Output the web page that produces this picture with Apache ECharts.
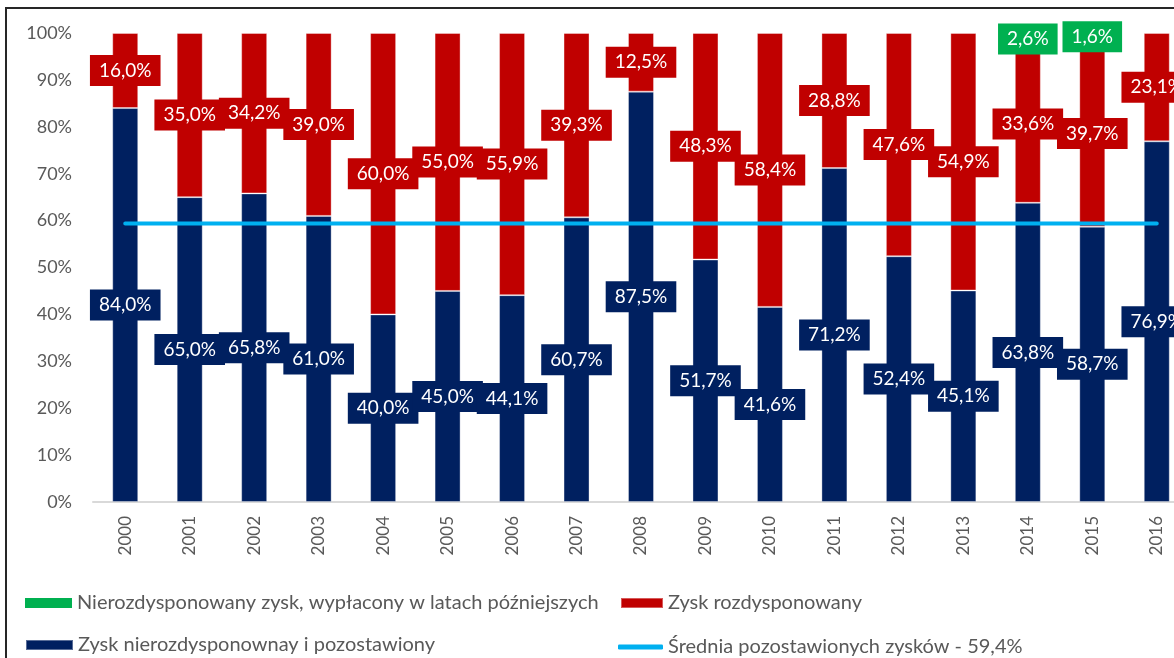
<!DOCTYPE html>
<html>
<head>
<meta charset="utf-8">
<script src="https://cdn.jsdelivr.net/npm/echarts@6/dist/echarts.min.js"></script>
<style>
  html, body { margin: 0; padding: 0; background: #fff; overflow: hidden; }
  #frame { position: absolute; left: 5px; top: 7px; width: 1400px; height: 800px;
           border-left: 2px solid #262626; border-top: 2px solid #262626; }
  #main { position: absolute; left: 0; top: 0; width: 1300px; height: 658px; }
</style>
</head>
<body>
<div id="frame"></div>
<div id="main"></div>
<script>
// dane z wykresu (w %)
var years = ['2000', '2001', '2002', '2003', '2004', '2005', '2006', '2007', '2008',
             '2009', '2010', '2011', '2012', '2013', '2014', '2015', '2016'];
var retained = [84.0, 65.0, 65.8, 61.0, 40.0, 45.0, 44.1, 60.7, 87.5,
                51.7, 41.6, 71.2, 52.4, 45.1, 63.8, 58.7, 76.9];
var distributed = [16.0, 35.0, 34.2, 39.0, 60.0, 55.0, 55.9, 39.3, 12.5,
                   48.3, 58.4, 28.8, 47.6, 54.9, 33.6, 39.7, 23.1];
var paidLater = [null, null, null, null, null, null, null, null, null,
                 null, null, null, null, null, 2.6, 1.6, null];
var average = [59.4, 59.4, 59.4, 59.4, 59.4, 59.4, 59.4, 59.4, 59.4,
               59.4, 59.4, 59.4, 59.4, 59.4, 59.4, 59.4, 59.4];
var yTicks = [0, 10, 20, 30, 40, 50, 60, 70, 80, 90, 100];

var nameGreen = 'Nierozdysponowany zysk, wypłacony w latach późniejszych';
var nameRed = 'Zysk rozdysponowany';
var nameBlue = 'Zysk nierozdysponownay i pozostawiony';
var nameLine = 'Średnia pozostawionych zysków - 59,4%';

var FONT = 'Lato';
var GRAY = '#595959';

function fmt(p) {
  return p.value.toFixed(1).replace('.', ',') + '%';
}
function barLabel(bg) {
  return {
    show: true,
    position: 'inside',
    formatter: fmt,
    color: '#fff',
    fontFamily: FONT,
    fontSize: 19,
    backgroundColor: bg,
    padding: [6, 9]
  };
}
function legendBox(name, left, top, w, h, icon) {
  return {
    data: [{ name: name, icon: icon }],
    left: left,
    top: top,
    padding: 0,
    selectedMode: false,
    itemWidth: w,
    itemHeight: h,
    itemGap: 0,
    textStyle: { color: GRAY, fontFamily: FONT, fontSize: 20 }
  };
}

var myChart = echarts.init(document.getElementById('main'));
var option = {
  animation: false,
  grid: { left: 93, top: 33, width: 1096, height: 469 },
  legend: [
    legendBox(nameGreen, 25, 593, 47, 10, 'rect'),
    legendBox(nameRed, 620, 593, 42, 10, 'rect'),
    legendBox(nameBlue, 25, 635, 47, 10, 'rect'),
    legendBox(nameLine, 618, 637, 45, 5, 'roundRect')
  ],
  xAxis: {
    type: 'category',
    data: years,
    axisTick: { show: false },
    axisLine: { lineStyle: { color: '#D9D9D9', width: 2 } },
    axisLabel: { rotate: 90, margin: 14, color: GRAY, fontFamily: FONT, fontSize: 17 }
  },
  yAxis: {
    type: 'value',
    min: 0,
    max: 100,
    interval: 10,
    splitLine: { show: false },
    axisLine: { show: false },
    axisTick: { show: false },
    axisLabel: {
      margin: 21, color: GRAY, fontFamily: FONT, fontSize: 18,
      formatter: function (v) { return yTicks.indexOf(v) >= 0 ? v + '%' : ''; }
    }
  },
  series: [
    {
      name: nameBlue, type: 'bar', stack: 'all', barWidth: 26,
      data: retained,
      itemStyle: { color: '#002060', borderColor: 'rgba(255,255,255,0.35)', borderWidth: 1 },
      label: barLabel('#002060')
    },
    {
      name: nameRed, type: 'bar', stack: 'all', barWidth: 26,
      data: distributed,
      itemStyle: { color: '#C00000', borderColor: 'rgba(255,255,255,0.35)', borderWidth: 1 },
      label: barLabel('#C00000')
    },
    {
      name: nameGreen, type: 'bar', stack: 'all', barWidth: 26,
      data: paidLater,
      itemStyle: { color: '#00B050' },
      label: barLabel('#00B050')
    },
    {
      name: nameLine, type: 'line', data: average,
      symbol: 'none', z: 5,
      itemStyle: { color: '#00B0F0' },
      lineStyle: { color: '#00B0F0', width: 4, cap: 'round' }
    }
  ]
};
myChart.setOption(option);
</script>
</body>
</html>
